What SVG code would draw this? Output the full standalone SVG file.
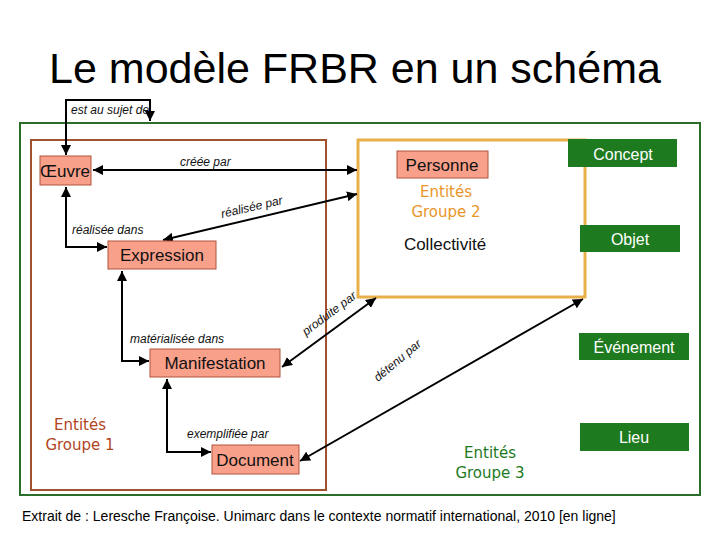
<svg xmlns="http://www.w3.org/2000/svg" width="720" height="540" viewBox="0 0 720 540">
<defs>
<style>
.t{font-family:"Liberation Sans",Arial,sans-serif}
.box{fill:#f9a08a;stroke:#b0523a;stroke-width:1}
.gbox{fill:#1e7a1e}
.gt{font-family:"Liberation Sans",Arial,sans-serif;fill:#fff;font-size:16px;text-anchor:middle}
.bt{font-family:"Liberation Sans",Arial,sans-serif;fill:#111;font-size:17px;text-anchor:middle}
.lbl{font-family:"Liberation Sans",Arial,sans-serif;font-style:italic;font-size:12px;fill:#111}
.c{fill:none;stroke:#000;stroke-width:2}
.grp{font-family:"Comic Sans MS","DejaVu Sans",sans-serif;font-size:15px;text-anchor:middle}
</style>
<marker id="a" viewBox="0 0 10 10" refX="10" refY="5" markerWidth="5" markerHeight="5" orient="auto-start-reverse"><path d="M0,0L10,5L0,10z"/></marker>
</defs>
<rect width="720" height="540" fill="#fff"/>
<text class="t" x="355" y="83" font-size="43" text-anchor="middle">Le modèle FRBR en un schéma</text>
<g id="frames">
<rect x="20" y="123" width="680" height="372" fill="none" stroke="#2a6e2a" stroke-width="2"/>
<rect x="31" y="140" width="295" height="350" fill="none" stroke="#a0522d" stroke-width="2"/>
<rect x="358" y="140" width="227" height="157" fill="none" stroke="#e8b04a" stroke-width="3"/>
</g>
<g id="connectors">
<path class="c" d="M66,155V100H150V121" marker-start="url(#a)" marker-end="url(#a)"/>
<path class="c" d="M93,170H357" marker-start="url(#a)" marker-end="url(#a)"/>
<path class="c" d="M163,240L357,194" marker-start="url(#a)" marker-end="url(#a)"/>
<path class="c" d="M66,187V247H107" marker-start="url(#a)" marker-end="url(#a)"/>
<path class="c" d="M122,271V361H149" marker-start="url(#a)" marker-end="url(#a)"/>
<path class="c" d="M167,379V452H211" marker-start="url(#a)" marker-end="url(#a)"/>
<path class="c" d="M282,367L376,298" marker-start="url(#a)" marker-end="url(#a)"/>
<path class="c" d="M300,461L583,299" marker-start="url(#a)" marker-end="url(#a)"/>
<text class="lbl" x="71" y="114" font-size="11">est au sujet de</text>
<text class="lbl" x="180" y="166">créée par</text>
<text class="lbl" transform="translate(222,218) rotate(-13)">réalisée par</text>
<text class="lbl" x="72" y="234">réalisée dans</text>
<text class="lbl" x="130" y="343">matérialisée dans</text>
<text class="lbl" x="187" y="438">exemplifiée par</text>
<text class="lbl" font-size="13" transform="translate(306,336) rotate(-37)">produite par</text>
<text class="lbl" font-size="13" transform="translate(378,382) rotate(-40)">détenu par</text>
</g>
<g id="oeuvre"><rect class="box" x="40" y="156" width="51" height="29"/><text class="bt" x="65" y="177" font-size="16">Œuvre</text></g>
<g id="expression"><rect class="box" x="108" y="241" width="108" height="28"/><text class="bt" x="162" y="261">Expression</text></g>
<g id="manifestation"><rect class="box" x="150" y="349" width="130" height="28"/><text class="bt" x="215" y="369">Manifestation</text></g>
<g id="document"><rect class="box" x="212" y="445" width="87" height="29"/><text class="bt" x="255" y="466">Document</text></g>
<g id="personne"><rect class="box" x="397" y="151" width="91" height="27"/><text class="bt" x="442" y="171">Personne</text></g>
<g id="collectivite"><text class="bt" x="445" y="250" font-size="16">Collectivité</text></g>
<g id="concept"><rect class="gbox" x="568" y="139" width="109" height="28"/><text class="gt" x="623" y="160">Concept</text></g>
<g id="objet"><rect class="gbox" x="580" y="225" width="100" height="27"/><text class="gt" x="630" y="245">Objet</text></g>
<g id="evenement"><rect class="gbox" x="579" y="333" width="110" height="27"/><text class="gt" x="634" y="353">Événement</text></g>
<g id="lieu"><rect class="gbox" x="580" y="423" width="109" height="28"/><text class="gt" x="634" y="443">Lieu</text></g>
<g id="groupes">
<text class="grp" x="446" y="197" fill="#e8962a">Entités</text>
<text class="grp" x="446" y="217" fill="#e8962a">Groupe 2</text>
<text class="grp" x="80" y="430" fill="#b0451e">Entités</text>
<text class="grp" x="80" y="450" fill="#b0451e">Groupe 1</text>
<text class="grp" x="490" y="458" fill="#1e7a1e">Entités</text>
<text class="grp" x="490" y="478" fill="#1e7a1e">Groupe 3</text>
</g>
<text class="t" x="22" y="521" font-size="14">Extrait de : Leresche Françoise. Unimarc dans le contexte normatif  international, 2010  [en ligne]</text>
</svg>
